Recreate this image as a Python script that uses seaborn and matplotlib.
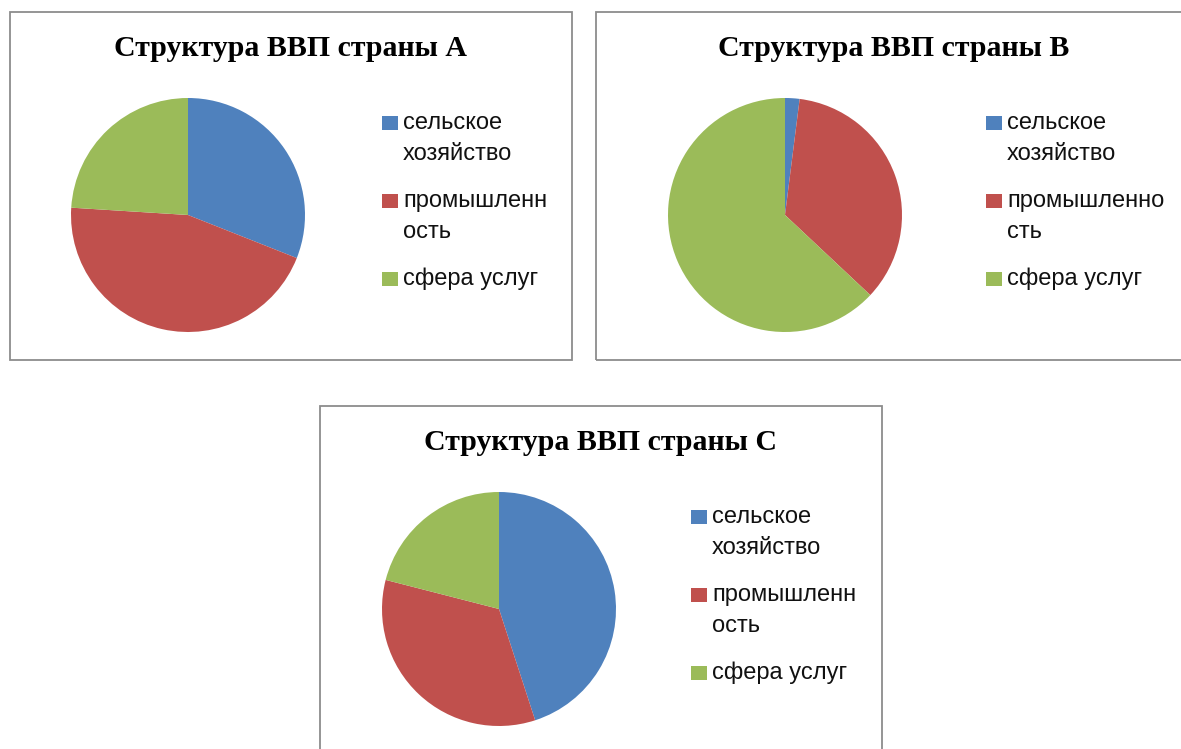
import matplotlib
matplotlib.use("Agg")
import matplotlib.pyplot as plt
from matplotlib.patches import Rectangle
import seaborn as sns

# pie data (shares of GDP, %)
sectors = ["сельское хозяйство", "промышленность", "сфера услуг"]
country_a = [31, 45, 24]
country_b = [2, 35, 63]
country_c = [45, 34, 21]

# legend labels as wrapped in each chart
labels_a = ["сельское\nхозяйство", "промышленн\nость", "сфера услуг"]
labels_b = ["сельское\nхозяйство", "промышленно\nсть", "сфера услуг"]
labels_c = ["сельское\nхозяйство", "промышленн\nость", "сфера услуг"]

titles = ["Структура ВВП страны А", "Структура ВВП страны В", "Структура ВВП страны С"]

sns.set_theme(style="white")
colors = ["#4F81BD", "#C0504D", "#9BBB59"]
sns.set_palette(colors)

W, H = 1181, 749


def fx(x):
    return x / W


def fy(y):
    return 1 - y / H


def draw_panel(fig, box, center, values, labels, title, legend_x):
    # box: left, top, right, bottom in pixels
    left, top, right, bottom = box
    fig.add_artist(Rectangle((fx(left), fy(bottom)), fx(right - left), (bottom - top) / H,
                             transform=fig.transFigure, fill=False,
                             edgecolor="#8c8c8c", linewidth=1.3))
    fig.text(fx((left + right) / 2), fy(top + 37), title, ha="center", va="center",
             family="Liberation Serif", fontweight="bold", fontsize=21.5, color="black")

    r = 117
    cx, cy = center
    ax = fig.add_axes([fx(cx - r), fy(cy + r), 2 * r / W, 2 * r / H])
    ax.pie(values, colors=colors, startangle=90, counterclock=False,
           wedgeprops=dict(linewidth=0))
    ax.set_xlim(-1, 1)
    ax.set_ylim(-1, 1)
    ax.set_aspect("auto")
    ax.axis("off")

    # legend: square next to first line of each wrapped label
    line_h = 31
    y = cy - 93
    for lab, col in zip(labels, colors):
        fig.add_artist(Rectangle((fx(legend_x), fy(y + 8)), 16 / W, 14 / H,
                                 transform=fig.transFigure, facecolor=col, edgecolor="none"))
        for i, line in enumerate(lab.split("\n")):
            fig.text(fx(legend_x + 21), fy(y + 7 + i * line_h), line, ha="left", va="baseline",
                     family="Liberation Sans", fontsize=17, color="#111111")
        y += len(lab.split("\n")) * line_h + 16


fig = plt.figure(figsize=(W / 100, H / 100), dpi=100)
fig.patch.set_facecolor("white")

draw_panel(fig, (10, 12, 572, 360), (188, 215), country_a, labels_a, titles[0], 382)
draw_panel(fig, (596, 12, 1192, 360), (785, 215), country_b, labels_b, titles[1], 986)
draw_panel(fig, (320, 406, 882, 760), (499, 609), country_c, labels_c, titles[2], 691)

fig.savefig("out.png", dpi=100)
